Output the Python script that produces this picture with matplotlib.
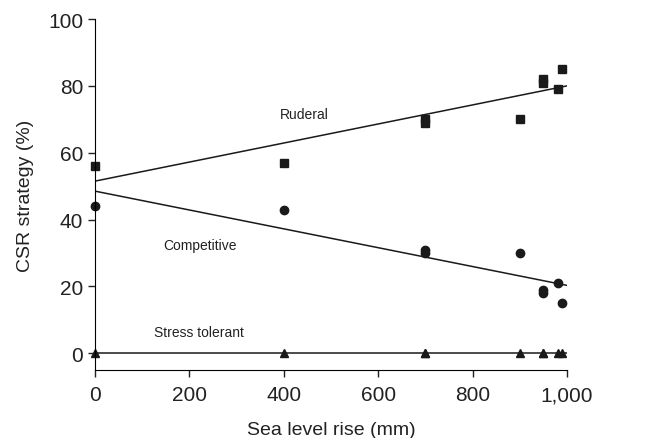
import numpy as np
import matplotlib
matplotlib.use("Agg")
import matplotlib.pyplot as plt

plt.rcParams['font.family'] = ['Liberation Sans', 'DejaVu Sans']

# datos
slr = [0, 400, 700, 700, 900, 950, 950, 980, 990]
ruderal = [56, 57, 69, 70, 70, 81, 82, 79, 85]
competitive = [44, 43, 30, 31, 30, 18, 19, 21, 15]
stress = [0, 0, 0, 0, 0, 0, 0, 0, 0]

# rectas de ajuste (extremos en x = 0 y x = 1000)
fit_x = [0, 1000]
fit_ruderal = [51.5, 80.0]
fit_competitive = [48.5, 20.3]
fit_stress = [0, 0]

xticks = [0, 200, 400, 600, 800, 1000]
xtick_labels = ['0', '200', '400', '600', '800', '1,000']
yticks = [0, 20, 40, 60, 80, 100]

fig = plt.figure(figsize=(6.54, 4.39), dpi=100)
ax = fig.add_axes([0.1453, 0.155, 0.7217, 0.7994])

ax.plot(fit_x, fit_ruderal, color='#1a1a1a', lw=1.1)
ax.plot(fit_x, fit_competitive, color='#1a1a1a', lw=1.1)
ax.plot(fit_x, fit_stress, color='#1a1a1a', lw=1.1)

ax.plot(slr, ruderal, 's', color='#1a1a1a', ms=5.5, clip_on=False)
ax.plot(slr, competitive, 'o', color='#1a1a1a', ms=6, clip_on=False)
ax.plot(slr, stress, '^', color='#1a1a1a', ms=6, clip_on=False)

ax.text(392, 71.5, 'Ruderal', fontsize=10, va='center', color='#222222')
ax.text(144, 32.3, 'Competitive', fontsize=10, va='center', color='#222222')
ax.text(125, 6.3, 'Stress tolerant', fontsize=10, va='center', color='#222222')

ax.set_xlim(0, 1000)
ax.set_ylim(-5, 100)
ax.set_xticks(xticks)
ax.set_xticklabels(xtick_labels)
ax.set_yticks(yticks)
ax.spines['top'].set_visible(False)
ax.spines['right'].set_visible(False)
ax.tick_params(labelsize=15, length=5, width=1, colors='#222222')
ax.tick_params(axis='x', pad=6)
ax.set_xlabel('Sea level rise (mm)', fontsize=14, color='#222222', labelpad=12)
ax.set_ylabel('CSR strategy (%)', fontsize=14, color='#222222', labelpad=10)

fig.savefig('out.png', dpi=100)
